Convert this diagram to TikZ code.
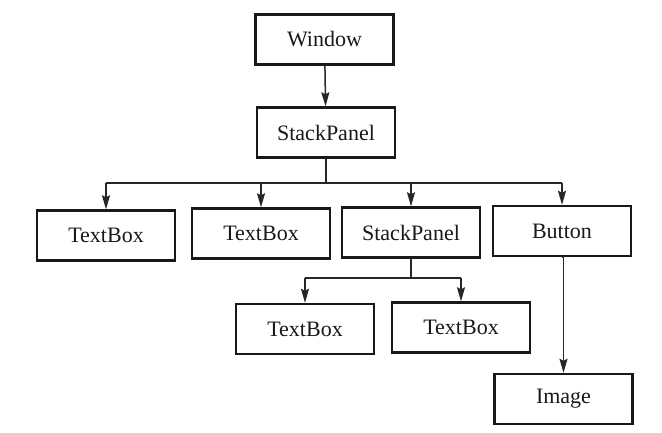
\documentclass[tikz,border=0pt]{standalone}
\usepackage{fontspec}
\setmainfont{Liberation Serif}
\usetikzlibrary{arrows.meta}
\begin{document}
\begin{tikzpicture}[x=1pt,y=-1pt,
  box/.style={draw=black!90, line width=2.4pt, minimum width=138pt, minimum height=50pt, inner sep=0pt,
    font=\fontsize{22}{26}\selectfont, text=black!90},
  conn/.style={line width=1.5pt, draw=black!85},
  arr/.style={conn, -{Stealth[length=14pt,width=8pt,inset=2pt]}}]
\path[fill=white] (0,0) rectangle (662,433);
\useasboundingbox (0,0) rectangle (662,433);
\node[box] (win) at (324.5,39.5) {Window};
\node[box] (sp1) at (326,132.5) {StackPanel};
\node[box] (tb1) at (106,235.5) {TextBox};
\node[box] (tb2) at (261,233.5) {TextBox};
\node[box] (sp2) at (411,232.5) {StackPanel};
\node[box] (btn) at (562,231) {Button};
\node[box] (tb3) at (305,329) {TextBox};
\node[box] (tb4) at (461,327.5) {TextBox};
\node[box] (img) at (563.5,399) {Image};
\coordinate (bus) at (327,183);
\coordinate (bus2) at (412,278);
\draw[arr] (win) -- (sp1);
\draw[conn] (sp1.south) -- (sp1.south |- bus);
\draw[conn] (tb1.north |- bus) -- (btn.north |- bus);
\draw[arr] (tb1.north |- bus) -- (tb1.north);
\draw[arr] (tb2.north |- bus) -- (tb2.north);
\draw[arr] (sp2.north |- bus) -- (sp2.north);
\draw[arr] (btn.north |- bus) -- (btn.north);
\draw[conn] (sp2.south) -- (sp2.south |- bus2);
\draw[conn] (tb3.north |- bus2) -- (tb4.north |- bus2);
\draw[arr] (tb3.north |- bus2) -- (tb3.north);
\draw[arr] (tb4.north |- bus2) -- (tb4.north);
\draw[arr] (btn.south) -- (btn.south -| img.north) -- (img.north);
\end{tikzpicture}
\end{document}
